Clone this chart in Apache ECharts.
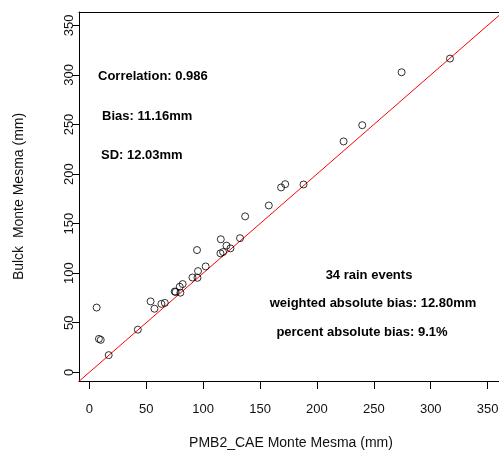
<!DOCTYPE html>
<html>
<head>
<meta charset="utf-8">
<script src="https://cdn.jsdelivr.net/npm/echarts@6/dist/echarts.min.js"></script>
<style>html,body{margin:0;padding:0;background:#fff}#c{width:499px;height:452px}</style>
</head>
<body>
<div id="c"></div>
<script>
// Data
const pmb2X = [316.9, 274.4, 239.8, 223.4, 188.2, 172.1, 168.5, 157.7, 136.9, 132.4, 115.5, 120.5, 124.0, 117.5, 115.2, 94.6, 102.2, 95.5, 95.0, 90.6, 82.0, 79.4, 80.0, 75.0, 75.8, 66.3, 63.3, 57.2, 53.8, 42.6, 6.4, 8.4, 10.0, 17.0];
const bulckY = [316.5, 302.7, 249.3, 232.9, 189.5, 189.8, 186.5, 168.3, 157.3, 135.3, 134.2, 127.8, 125.0, 121.3, 120.0, 123.3, 106.8, 102.1, 95.3, 95.6, 89.0, 86.3, 80.3, 81.5, 81.0, 70.0, 69.0, 64.1, 71.5, 43.0, 65.3, 33.7, 32.7, 17.3];
const tickValues = [0, 50, 100, 150, 200, 250, 300, 350];
const identityLine = [[-50, -50], [450, 450]];
const statsLeft = ['Correlation: 0.986', 'Bias: 11.16mm', 'SD: 12.03mm'];
const statsRight = ['34 rain events', 'weighted absolute bias: 12.80mm', 'percent absolute bias: 9.1%'];
const xTitle = 'PMB2_CAE Monte Mesma (mm)';
const yTitle = 'Bulck  Monte Mesma (mm)';

const FONT = '"Liberation Sans", Arial, sans-serif';
const points = pmb2X.map((x, i) => [x, bulckY[i]]);

const chart = echarts.init(document.getElementById('c'), null, {renderer: 'canvas'});
const boldFont = 'bold 13px ' + FONT;
const X_MIN = -9.1, X_MAX = 363.5, Y_MIN = -8.8, Y_MAX = 363.5;
chart.setOption({
  animation: false,
  backgroundColor: '#fff',
  grid: {left: 79, top: 12, width: 424, height: 369, show: false, containLabel: false, outerBoundsMode: 'none'},
  xAxis: [{
    type: 'value', min: X_MIN, max: X_MAX, position: 'bottom',
    splitLine: {show: false},
    axisLine: {show: true, onZero: false, lineStyle: {color: '#000', width: 1}},
    axisTick: {show: true, length: 8, customValues: tickValues, lineStyle: {color: '#000'}},
    axisLabel: {customValues: tickValues, margin: 22, fontSize: 13, color: '#111', fontFamily: FONT},
    name: xTitle, nameLocation: 'middle', nameGap: 55,
    nameTextStyle: {fontSize: 14, color: '#111', fontFamily: FONT}
  }, {
    type: 'value', min: X_MIN, max: X_MAX, position: 'top',
    splitLine: {show: false},
    axisLine: {show: true, onZero: false, lineStyle: {color: '#000', width: 1}},
    axisTick: {show: false}, axisLabel: {show: false}
  }],
  yAxis: {
    type: 'value', min: Y_MIN, max: Y_MAX,
    splitLine: {show: false},
    axisLine: {show: true, onZero: false, lineStyle: {color: '#000', width: 1}},
    axisTick: {show: true, length: 7, customValues: tickValues, lineStyle: {color: '#000'}},
    axisLabel: {customValues: tickValues, rotate: 90, margin: 3, fontSize: 13, color: '#111', fontFamily: FONT},
    name: yTitle, nameLocation: 'middle', nameGap: 53,
    nameTextStyle: {fontSize: 14, color: '#111', fontFamily: FONT}
  },
  series: [
    {
      type: 'line', data: identityLine, showSymbol: false, clip: true,
      lineStyle: {color: '#ff0000', width: 1}, silent: true, z: 1
    },
    {
      type: 'scatter', data: points, symbol: 'circle', symbolSize: 7, z: 2,
      itemStyle: {color: 'transparent', borderColor: '#000', borderWidth: 1}
    }
  ],
  graphic: [
    {type: 'text', x: 98, y: 76, style: {text: statsLeft[0], font: boldFont, fill: '#000', align: 'left', verticalAlign: 'middle'}},
    {type: 'text', x: 102, y: 116, style: {text: statsLeft[1], font: boldFont, fill: '#000', align: 'left', verticalAlign: 'middle'}},
    {type: 'text', x: 101, y: 155, style: {text: statsLeft[2], font: boldFont, fill: '#000', align: 'left', verticalAlign: 'middle'}},
    {type: 'text', x: 369, y: 275, style: {text: statsRight[0], font: boldFont, fill: '#000', align: 'center', verticalAlign: 'middle'}},
    {type: 'text', x: 373, y: 303, style: {text: statsRight[1], font: boldFont, fill: '#000', align: 'center', verticalAlign: 'middle'}},
    {type: 'text', x: 362, y: 332, style: {text: statsRight[2], font: boldFont, fill: '#000', align: 'center', verticalAlign: 'middle'}}
  ]
});
</script>
</body>
</html>
